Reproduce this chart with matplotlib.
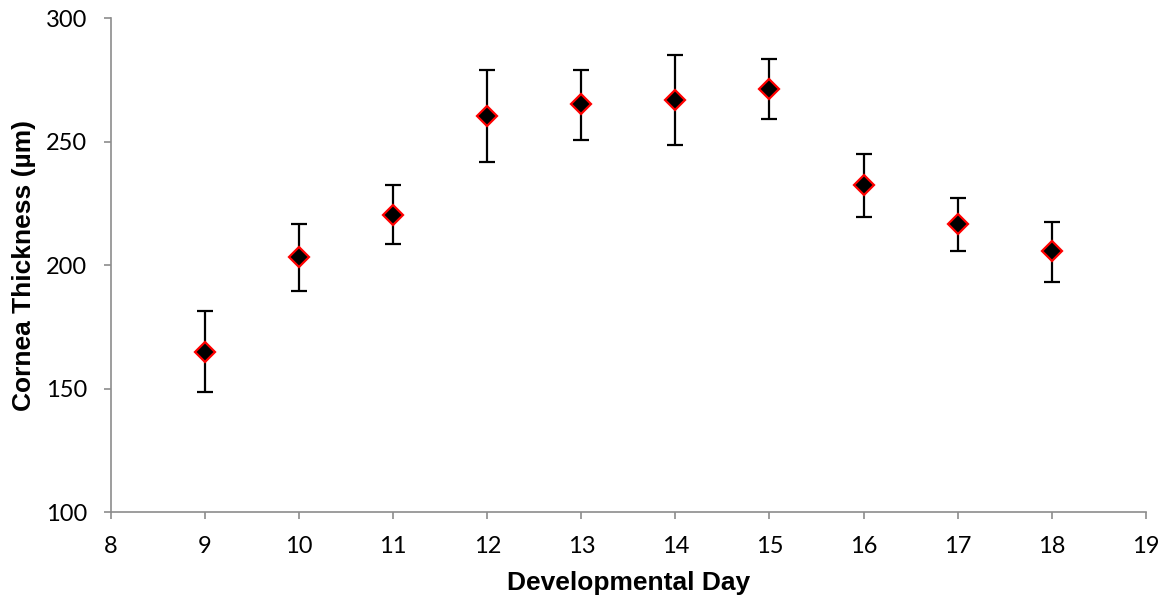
import matplotlib
matplotlib.use("Agg")
from matplotlib import pyplot as plt
import numpy as np

# developmental day vs cornea thickness
days = [9, 10, 11, 12, 13, 14, 15, 16, 17, 18]
thickness = [165.0, 203.2, 220.5, 260.4, 265.1, 266.7, 271.4, 232.5, 216.5, 205.6]
err_up = [16.5, 13.5, 11.8, 18.7, 14.0, 18.2, 12.1, 12.6, 10.6, 12.0]
err_down = [16.5, 13.5, 11.8, 18.7, 14.5, 18.2, 12.3, 12.9, 10.9, 12.4]

xticks = list(range(8, 20))
yticks = [100, 150, 200, 250, 300]

axis_grey = "#8c8c8c"

fig = plt.figure(figsize=(11.68, 6.06), dpi=100)
ax = fig.add_axes([0.095, 0.155, 0.886, 0.815])

ax.errorbar(days, thickness, yerr=[err_down, err_up], fmt="none",
            ecolor="black", elinewidth=1.6, capsize=6, capthick=1.6, zorder=2)
ax.plot(days, thickness, linestyle="none", marker="D", markersize=10.5,
        markerfacecolor="black", markeredgecolor="red", markeredgewidth=1.6, zorder=3)

ax.set_xlim(8, 19)
ax.set_ylim(100, 300)
ax.set_xticks(xticks)
ax.set_yticks(yticks)

for side in ["top", "right"]:
    ax.spines[side].set_visible(False)
for side in ["left", "bottom"]:
    ax.spines[side].set_color(axis_grey)
    ax.spines[side].set_linewidth(1.2)

ax.tick_params(axis="both", direction="out", length=5, width=1.2, color=axis_grey,
               labelsize=17, labelcolor="black")
ax.tick_params(axis="x", pad=12)
ax.tick_params(axis="y", pad=12)
for lab in ax.get_xticklabels() + ax.get_yticklabels():
    lab.set_fontfamily("Lato")

ax.set_xlabel("Developmental Day", fontsize=19, fontweight="bold",
              fontfamily="Liberation Sans", labelpad=10)
ax.set_ylabel("Cornea Thickness (µm)", fontsize=19, fontweight="bold",
              fontfamily="Liberation Sans", labelpad=7)

plt.savefig("out.png", dpi=100)
